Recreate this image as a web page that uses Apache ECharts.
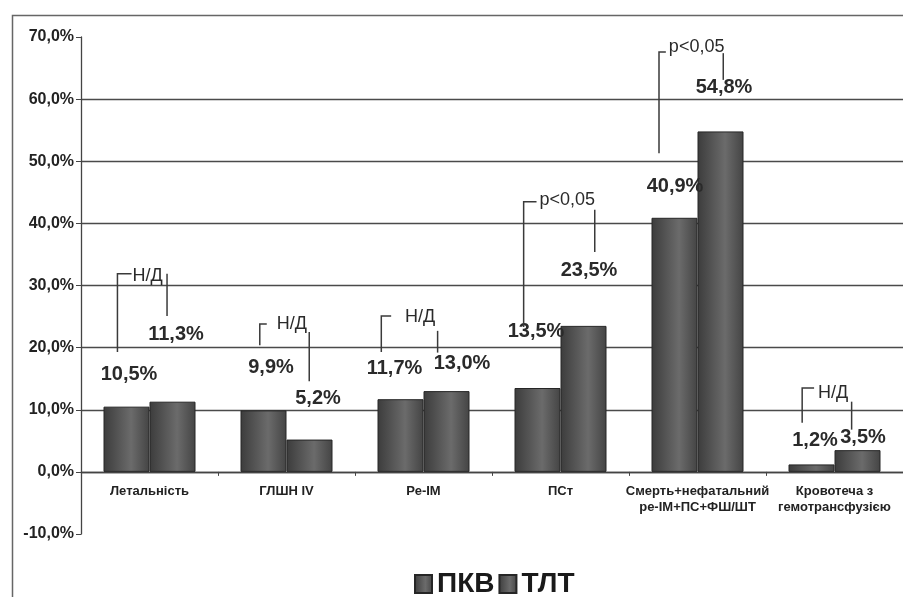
<!DOCTYPE html>
<html>
<head>
<meta charset="utf-8">
<script src="https://cdn.jsdelivr.net/npm/echarts@6/dist/echarts.min.js"></script>
<style>
html,body{margin:0;padding:0;background:#fff;}
#chart{width:903px;height:597px;}
</style>
</head>
<body>
<div id="chart"></div>
<script>
// ---- data ----
const categories = ['Летальність', 'ГЛШН IV', 'Ре-ІМ', 'ПСт', 'Смерть+нефатальний\nре-ІМ+ПС+ФШ/ШТ', 'Кровотеча з\nгемотрансфузією'];
const seriesNames = ['ПКВ', 'ТЛТ'];
const pkv = [10.5, 9.9, 11.7, 13.5, 40.9, 1.2];
const tlt = [11.3, 5.2, 13.0, 23.5, 54.8, 3.5];
const yMin = -10, yMax = 70, yStep = 10;
// significance annotations: [category, text]
const sigCategory = [0, 1, 2, 3, 4, 5];
const sigText = ['Н/Д', 'Н/Д', 'Н/Д', 'p<0,05', 'p<0,05', 'Н/Д'];

// ---- layout / style (not data) ----
const pkvLabelShift = [[2.5, -22], [7.5, -33], [-6, -21], [-1.5, -47], [0.5, -21.5], [3.5, -14]];
const tltLabelShift = [[3.5, -57], [8.5, -31], [15.5, -18], [5.5, -45], [3.5, -34], [5.5, -2.5]];
// bracket geometry: x in band fractions from category centre, y in axis values
// [leftX, hEndX, textX, rightX, leftBottom, top, textY, rightTop, rightBottom]
const bracketGeom = [
  [-0.234, -0.131, -0.124, 0.128, 19.3, 31.9, 31.5, 31.9, 25.1],
  [-0.195, -0.144, -0.072, 0.166, 20.4, 23.8, 23.8, 22.5, 14.6],
  [-0.308, -0.236, -0.135, 0.103, 19.3, 25.1, 24.9, 22.7, 19.2],
  [-0.269, -0.175, -0.154, 0.250, 23.3, 43.5, 43.8, 42.2, 35.4],
  [-0.281, -0.231, -0.209, 0.188, 51.3, 67.6, 68.4, 67.4, 63.1],
  [-0.236, -0.149, -0.120, 0.125, 7.9, 13.5, 12.7, 11.3, 6.8]
];

const FONT = '"Liberation Sans", Arial, sans-serif';
const pct = v => Number(v).toFixed(1).replace('.', ',') + '%';

const chart = echarts.init(document.getElementById('chart'), null, {renderer: 'canvas'});

function barGradient() {
  return new echarts.graphic.LinearGradient(0, 0, 1, 0, [
    {offset: 0, color: '#3c3c3c'},
    {offset: 0.6, color: '#6b6b6b'},
    {offset: 1, color: '#444444'}
  ]);
}

function makeBarData(vals, shifts) {
  return vals.map((v, i) => ({value: v, label: {offset: shifts[i]}}));
}

const barLabel = {
  show: true,
  position: 'top',
  distance: 0,
  formatter: p => pct(p.value),
  fontFamily: FONT,
  fontWeight: 'bold',
  fontSize: 20,
  lineHeight: 20,
  color: '#2a2a2a'
};

const bracketData = sigCategory.map((c, i) => [c].concat(bracketGeom[i]).concat([sigText[i]]));

const gridTop = 37, gridBottom = 63, chartH = 597;
const plotH = chartH - gridTop - gridBottom;
const zeroShift = -plotH * (0 - yMin) / (yMax - yMin); // move x axis up to value 0

const option = {
  backgroundColor: '#ffffff',
  animation: false,
  textStyle: {fontFamily: FONT},
  graphic: [{
    type: 'rect',
    left: 10, top: 13, z: -10, silent: true,
    shape: {width: 1000, height: 1000},
    style: {fill: 'none', stroke: '#666', lineWidth: 1.5}
  }],
  grid: {left: 81, right: -10, top: gridTop, bottom: gridBottom, containLabel: false},
  legend: {
    data: seriesNames,
    left: 409, top: 565,
    icon: 'rect',
    itemWidth: 17, itemHeight: 18, itemGap: 4,
    textStyle: {fontFamily: FONT, fontWeight: 'bold', fontSize: 28, color: '#1a1a1a'}
  },
  xAxis: {
    type: 'category',
    data: categories,
    offset: zeroShift,
    axisLine: {show: true, onZero: false, lineStyle: {color: '#444', width: 1.3}},
    axisTick: {show: true, length: 4, inside: false, alignWithLabel: false, lineStyle: {color: '#444'}},
    axisLabel: {
      interval: 0, margin: 12,
      fontFamily: FONT,
      fontWeight: 'bold', fontSize: 13, lineHeight: 16, color: '#222'
    },
    splitLine: {show: false}
  },
  yAxis: {
    type: 'value',
    min: yMin, max: yMax, interval: yStep,
    axisLine: {show: true, lineStyle: {color: '#444', width: 1.3}},
    axisTick: {show: true, length: 5, lineStyle: {color: '#444'}},
    axisLabel: {
      formatter: v => pct(v), margin: 7,
      fontFamily: FONT, fontWeight: 'bold', fontSize: 16, color: '#222'
    },
    splitLine: {show: true, showMinLine: false, showMaxLine: false, lineStyle: {color: '#4a4a4a', width: 1.4}}
  },
  series: [
    {
      name: seriesNames[0], type: 'bar',
      barWidth: 46, barGap: '0%',
      data: makeBarData(pkv, pkvLabelShift),
      itemStyle: {color: barGradient(), borderColor: '#262626', borderWidth: 1},
      label: barLabel
    },
    {
      name: seriesNames[1], type: 'bar',
      barWidth: 46, barGap: '0%',
      data: makeBarData(tlt, tltLabelShift),
      itemStyle: {color: barGradient(), borderColor: '#262626', borderWidth: 1},
      label: barLabel
    },
    {
      name: 'sig', type: 'custom', silent: true, z: 5,
      data: bracketData,
      encode: {x: 0, y: 6},
      renderItem: function (params, api) {
        const idx = api.value(0);
        const center = api.coord([idx, 0])[0];
        const bw = api.size([1, 0])[0];
        const X = f => center + f * bw;
        const Y = v => api.coord([idx, v])[1];
        const lx = X(api.value(1)), hx = X(api.value(2)), tx = X(api.value(3)), rx = X(api.value(4));
        const lb = Y(api.value(5)), tp = Y(api.value(6)), ty = Y(api.value(7)), rt = Y(api.value(8)), rb = Y(api.value(9));
        const txt = api.value(10);
        const ls = {stroke: '#3a3a3a', lineWidth: 1.5, fill: null};
        return {
          type: 'group',
          children: [
            {type: 'polyline', shape: {points: [[lx, lb], [lx, tp], [hx, tp]]}, style: ls},
            {type: 'line', shape: {x1: rx, y1: rt, x2: rx, y2: rb}, style: ls},
            {type: 'text', style: {
              text: txt, x: tx, y: ty,
              font: '18px ' + FONT, fill: '#2a2a2a',
              align: 'left', verticalAlign: 'middle',
              textAlign: 'left', textVerticalAlign: 'middle'
            }}
          ]
        };
      }
    }
  ]
};

chart.setOption(option);
</script>
</body>
</html>
